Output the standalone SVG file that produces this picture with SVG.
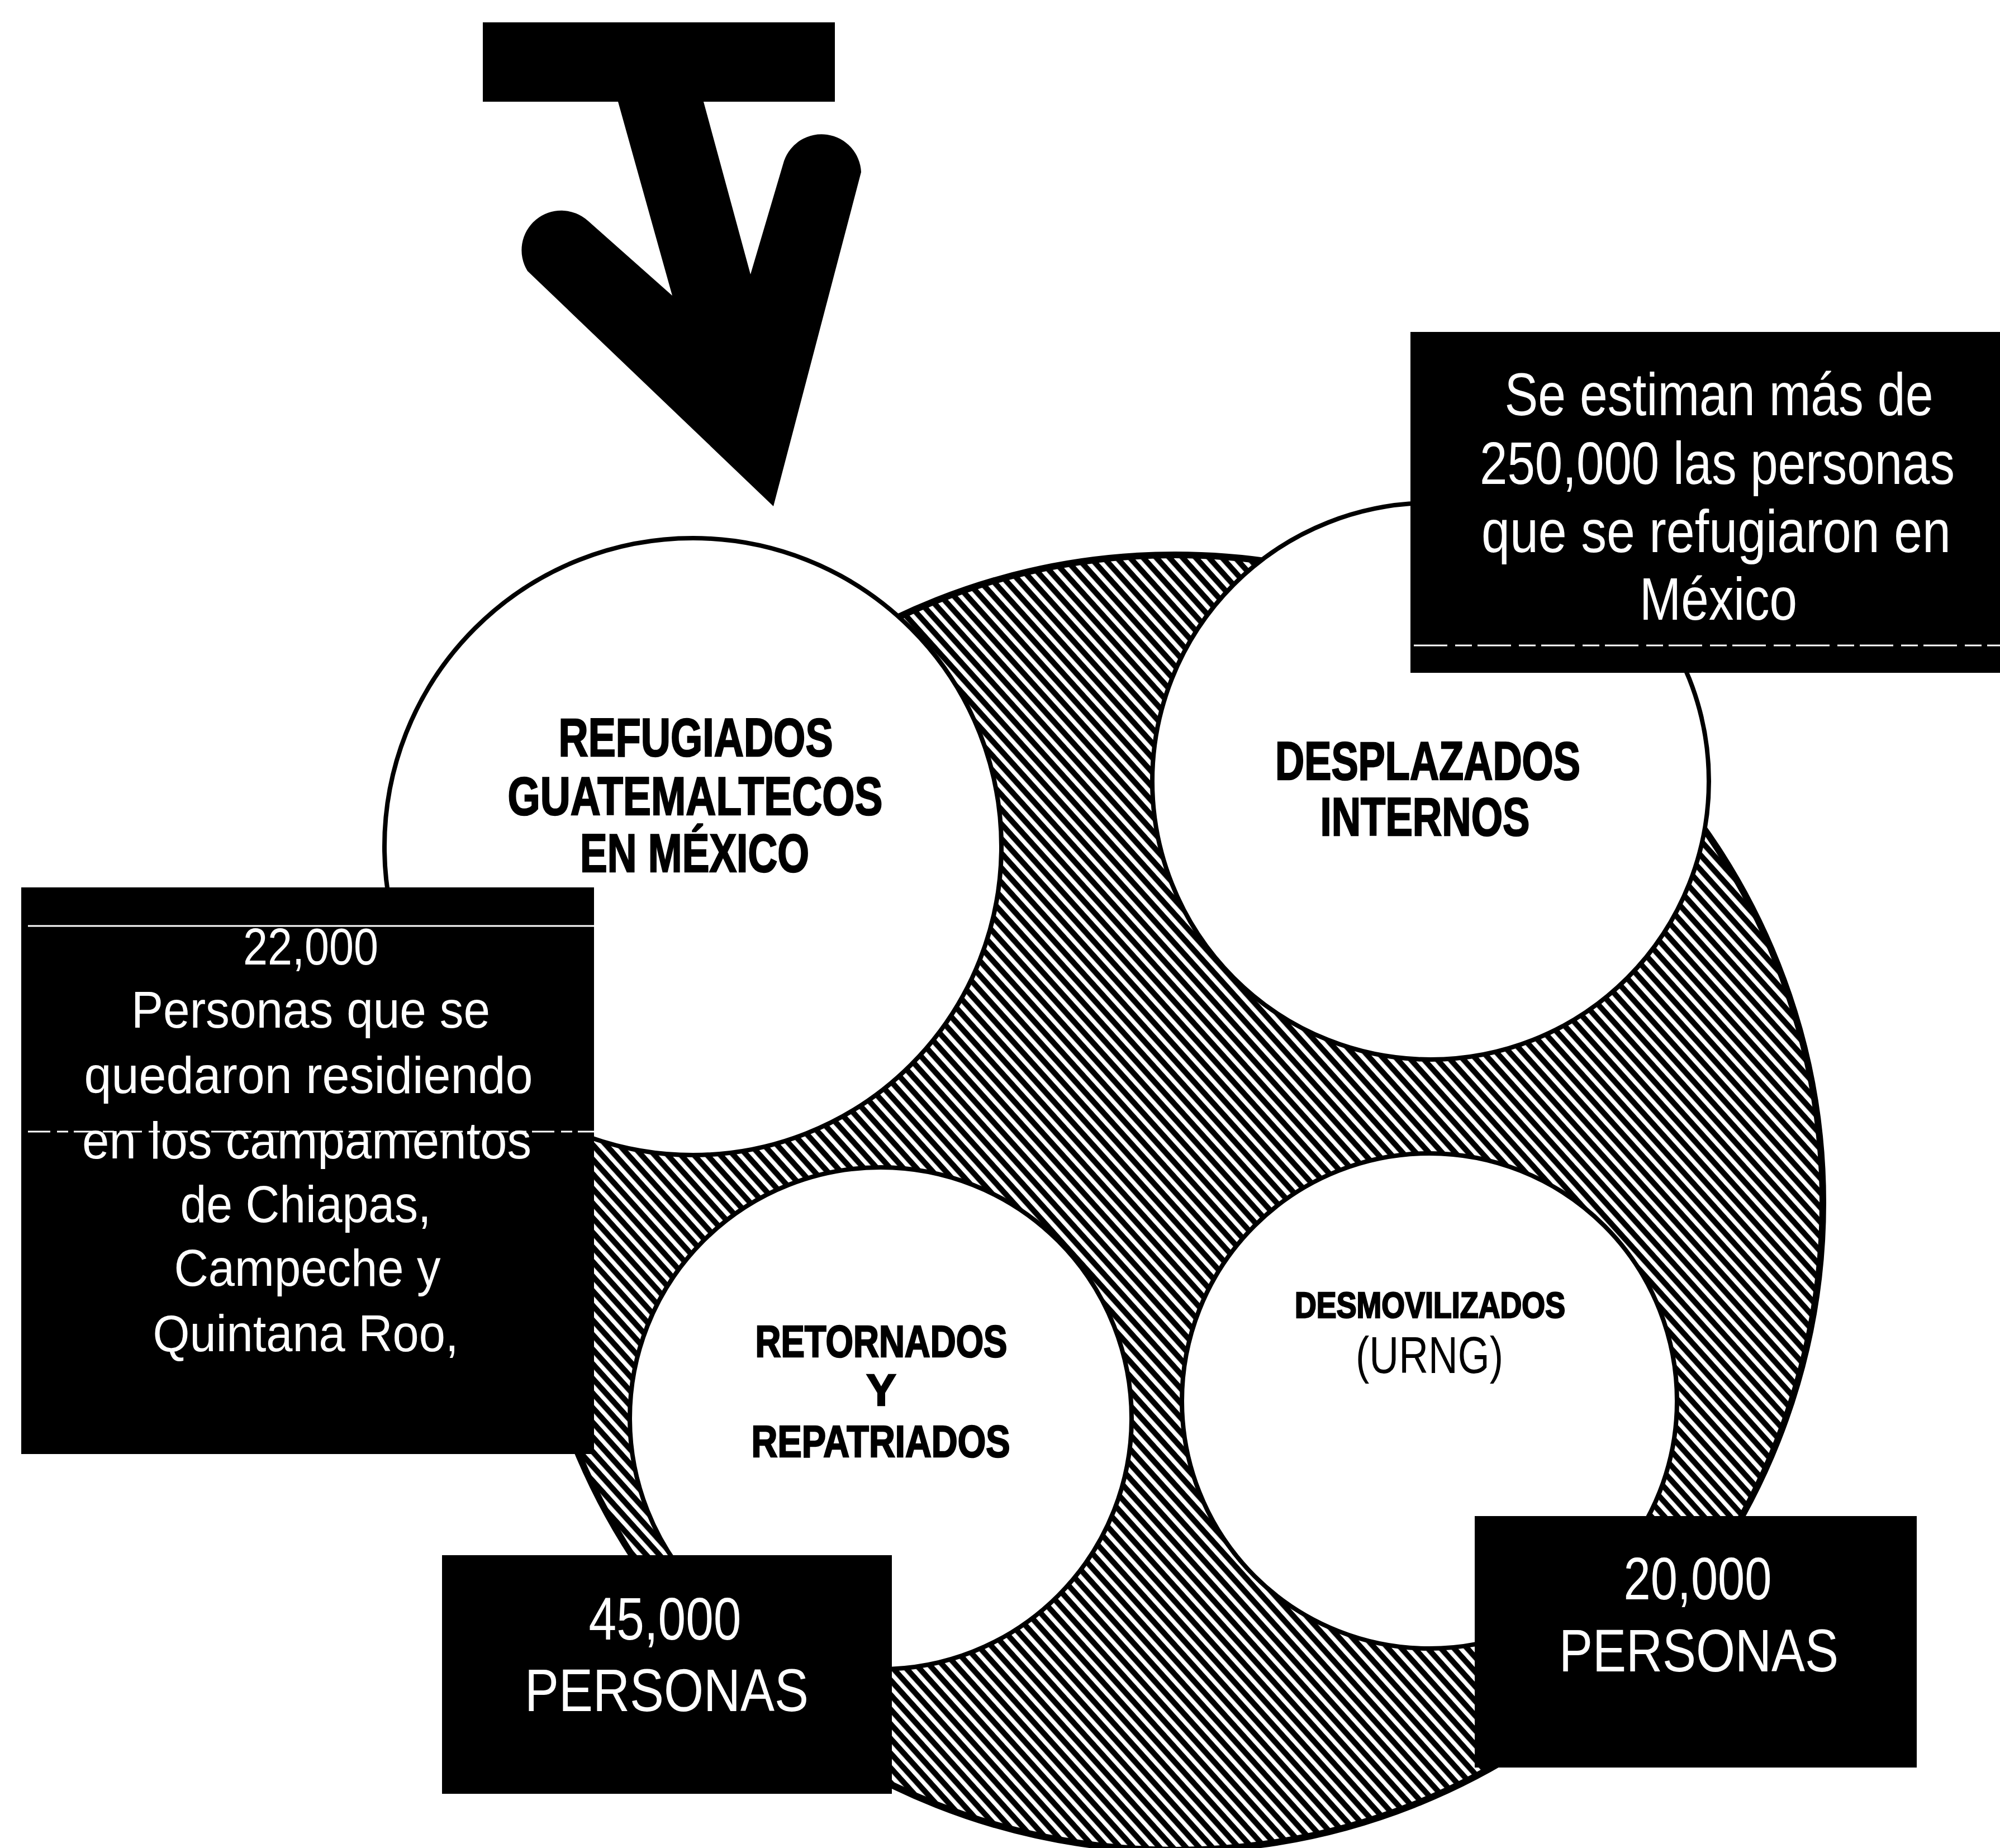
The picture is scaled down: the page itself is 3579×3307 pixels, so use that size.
<svg xmlns="http://www.w3.org/2000/svg" width="3579" height="3307" viewBox="0 0 3579 3307">
<defs>
<pattern id="hatch" patternUnits="userSpaceOnUse" width="17.5" height="17.5" patternTransform="rotate(48)">
<rect x="0" y="0" width="17.5" height="17.5" fill="#fff"/>
<rect x="0" y="0" width="17.5" height="10" fill="#000"/>
</pattern>
<style>
.bx{fill:#000}
.wt{fill:#fff;font-family:"Liberation Sans",Arial,sans-serif;text-anchor:middle}
.lb{fill:#000;font-family:"Liberation Sans",Arial,sans-serif;font-weight:bold;text-anchor:middle;stroke:#000;stroke-width:2.5}
.lr{fill:#000;font-family:"Liberation Sans",Arial,sans-serif;text-anchor:middle}
.circ{fill:#fff;stroke:#000;stroke-width:8}
.scan{stroke:#fff;stroke-width:3;fill:none}
</style>
</defs>
<rect width="3579" height="3307" fill="#fff"/>

<g id="ring">
<circle cx="2103" cy="2152" r="1159" fill="url(#hatch)" stroke="#000" stroke-width="12"/>
</g>

<g id="node-refugiados">
<circle class="circ" cx="1240" cy="1515" r="552"/>
<text class="lb" x="1245" y="1353" font-size="97" textLength="491" lengthAdjust="spacingAndGlyphs">REFUGIADOS</text>
<text class="lb" x="1244" y="1458" font-size="97" textLength="671" lengthAdjust="spacingAndGlyphs">GUATEMALTECOS</text>
<text class="lb" x="1243" y="1560" font-size="97" textLength="410" lengthAdjust="spacingAndGlyphs">EN MÉXICO</text>
</g>

<g id="node-desplazados">
<circle class="circ" cx="2560" cy="1398" r="498"/>
<text class="lb" x="2555" y="1395" font-size="97" textLength="546" lengthAdjust="spacingAndGlyphs">DESPLAZADOS</text>
<text class="lb" x="2550" y="1495" font-size="97" textLength="375" lengthAdjust="spacingAndGlyphs">INTERNOS</text>
</g>

<g id="node-retornados">
<circle class="circ" cx="1576" cy="2538" r="449"/>
<text class="lb" x="1577" y="2428" font-size="80" textLength="451" lengthAdjust="spacingAndGlyphs">RETORNADOS</text>
<text class="lb" x="1577" y="2515" font-size="80">Y</text>
<text class="lb" x="1576" y="2607" font-size="80" textLength="463" lengthAdjust="spacingAndGlyphs">REPATRIADOS</text>
</g>

<g id="node-desmovilizados">
<circle class="circ" cx="2558" cy="2507" r="443"/>
<text class="lb" x="2559" y="2358" font-size="64" textLength="484" lengthAdjust="spacingAndGlyphs">DESMOVILIZADOS</text>
<text class="lr" x="2558" y="2457" font-size="93" textLength="264" lengthAdjust="spacingAndGlyphs">(URNG)</text>
</g>

<g id="box-250000">
<rect class="bx" x="2524" y="594" width="1055" height="610"/>
<line class="scan" x1="2530" y1="1155" x2="3579" y2="1155" stroke-dasharray="60 14 30 10"/>
<g transform="scale(0.8,1)">
<text class="wt" x="3845" y="743" font-size="108" textLength="958.75" lengthAdjust="spacingAndGlyphs">Se estiman más de</text>
<text class="wt" x="3841.25" y="866" font-size="108" textLength="1062.5" lengthAdjust="spacingAndGlyphs">250,000 las personas</text>
<text class="wt" x="3838.75" y="988" font-size="108" textLength="1050" lengthAdjust="spacingAndGlyphs">que se refugiaron en</text>
<text class="wt" x="3843.75" y="1109" font-size="108" textLength="352.5" lengthAdjust="spacingAndGlyphs">México</text>
</g>
</g>

<g id="box-22000">
<rect class="bx" x="38" y="1588" width="1025" height="1014"/>
<line class="scan" x1="50" y1="1657" x2="1063" y2="1657"/>
<line class="scan" x1="50" y1="2025" x2="1063" y2="2025" stroke-dasharray="40 12 20 10"/>
<g transform="scale(0.8,1)">
<text class="wt" x="695" y="1726" font-size="92" textLength="302.5" lengthAdjust="spacingAndGlyphs">22,000</text>
<text class="wt" x="695" y="1839" font-size="92" textLength="802.5" lengthAdjust="spacingAndGlyphs">Personas que se</text>
<text class="wt" x="690" y="1956" font-size="92" textLength="1003.75" lengthAdjust="spacingAndGlyphs">quedaron residiendo</text>
<text class="wt" x="686.25" y="2073" font-size="92" textLength="1005" lengthAdjust="spacingAndGlyphs">en los campamentos</text>
<text class="wt" x="683.75" y="2187" font-size="92" textLength="561.25" lengthAdjust="spacingAndGlyphs">de Chiapas,</text>
<text class="wt" x="687.5" y="2301" font-size="92" textLength="596.25" lengthAdjust="spacingAndGlyphs">Campeche y</text>
<text class="wt" x="683.75" y="2418" font-size="92" textLength="683.75" lengthAdjust="spacingAndGlyphs">Quintana Roo,</text>
</g>
</g>

<g id="box-45000">
<rect class="bx" x="791" y="2783" width="805" height="427"/>
<g transform="scale(0.8,1)">
<text class="wt" x="1487.5" y="2934" font-size="107" textLength="341.25" lengthAdjust="spacingAndGlyphs">45,000</text>
<text class="wt" x="1491.25" y="3062" font-size="107" textLength="635" lengthAdjust="spacingAndGlyphs">PERSONAS</text>
</g>
</g>

<g id="box-20000">
<rect class="bx" x="2639" y="2713" width="791" height="450"/>
<g transform="scale(0.8,1)">
<text class="wt" x="3797.5" y="2862" font-size="107" textLength="331.25" lengthAdjust="spacingAndGlyphs">20,000</text>
<text class="wt" x="3800" y="2991" font-size="107" textLength="625" lengthAdjust="spacingAndGlyphs">PERSONAS</text>
</g>
</g>

<g id="connectors">
<path id="arrow" fill="#000" d="M864,40 H1494 V182 H1259 L1343,491 L1403,288 A71,71 0 0 1 1541,308 L1384,906 L944,485 A71,71 0 0 1 1052,395 L1203,529 L1106,182 H864 Z"/>
</g>
</svg>
